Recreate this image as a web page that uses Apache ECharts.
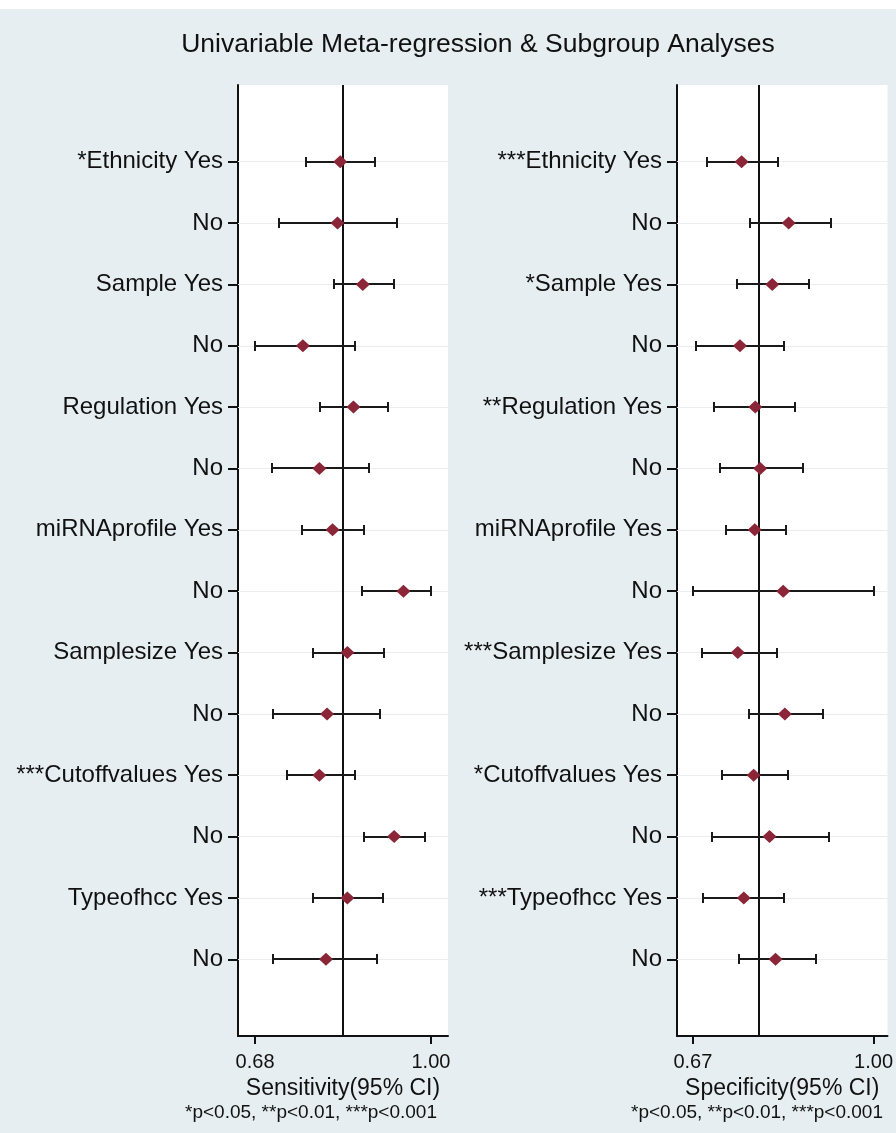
<!DOCTYPE html>
<html>
<head>
<meta charset="utf-8">
<script src="https://cdn.jsdelivr.net/npm/echarts@6/dist/echarts.min.js"></script>
<style>
  html, body { margin: 0; padding: 0; background: #e7eef2; }
  #chart { width: 896px; height: 1133px; }
</style>
</head>
<body>
<div id="chart"></div>
<script>
// Row labels (top to bottom)
const sensLabels = ['*Ethnicity Yes', 'No', 'Sample Yes', 'No', 'Regulation Yes', 'No',
  'miRNAprofile Yes', 'No', 'Samplesize Yes', 'No', '***Cutoffvalues Yes', 'No', 'Typeofhcc Yes', 'No'];
const specLabels = ['***Ethnicity Yes', 'No', '*Sample Yes', 'No', '**Regulation Yes', 'No',
  'miRNAprofile Yes', 'No', '***Samplesize Yes', 'No', '*Cutoffvalues Yes', 'No', '***Typeofhcc Yes', 'No'];

// Sensitivity estimates with 95% CI
const sensEst = [0.835, 0.830, 0.876, 0.767, 0.859, 0.797, 0.821, 0.950, 0.848, 0.811, 0.797, 0.933, 0.848, 0.809];
const sensLo  = [0.772, 0.724, 0.824, 0.680, 0.799, 0.710, 0.765, 0.875, 0.785, 0.713, 0.738, 0.878, 0.785, 0.713];
const sensHi  = [0.898, 0.939, 0.932, 0.861, 0.922, 0.888, 0.878, 1.000, 0.915, 0.908, 0.861, 0.990, 0.912, 0.901];
const sensPooled = 0.836;

// Specificity estimates with 95% CI
const specEst = [0.759, 0.845, 0.815, 0.756, 0.784, 0.793, 0.783, 0.835, 0.752, 0.838, 0.781, 0.810, 0.763, 0.821];
const specLo  = [0.696, 0.775, 0.751, 0.675, 0.709, 0.720, 0.730, 0.671, 0.686, 0.772, 0.723, 0.705, 0.689, 0.754];
const specHi  = [0.826, 0.922, 0.882, 0.837, 0.857, 0.871, 0.840, 1.000, 0.823, 0.908, 0.843, 0.919, 0.837, 0.894];
const specPooled = 0.789;

// Axis tick values
const sensTicks = [0.68, 1.00];
const specTicks = [0.67, 1.00];

const FONT = 'Liberation Sans, Arial, sans-serif';
const rows = sensLabels.map((_, i) => i + 1);

function xAxisFor(idx, ticks, min, max, name) {
  return {
    type: 'value', gridIndex: idx, min: min, max: max, position: 'bottom',
    name: name, nameLocation: 'middle', nameGap: 38,
    nameTextStyle: { fontFamily: FONT, fontSize: 23, color: '#111' },
    axisLine: { show: true, onZero: false, lineStyle: { color: '#111', width: 2 } },
    axisTick: { show: true, customValues: ticks, length: 8, lineStyle: { color: '#111', width: 2 } },
    axisLabel: { customValues: ticks, formatter: v => v.toFixed(2), margin: 16,
      fontFamily: FONT, fontSize: 20, color: '#111' },
    splitLine: { show: false }
  };
}

function yAxisFor(idx, labels) {
  return {
    type: 'value', gridIndex: idx, inverse: true, min: -0.25, max: 15.25,
    axisLine: { show: true, onZero: false, lineStyle: { color: '#111', width: 2 } },
    axisTick: { show: true, customValues: rows, length: 10, lineStyle: { color: '#111', width: 2 } },
    axisLabel: { customValues: rows, formatter: v => labels[Math.round(v) - 1] || '', margin: 15,
      fontFamily: FONT, fontSize: 24, color: '#111' },
    splitLine: { show: false }
  };
}

function panelSeries(idx, est, lo, hi, pooled) {
  const barData = lo.map((l, i) => [l, hi[i], i + 1]);
  const pointData = est.map((e, i) => [e, i + 1]);
  return [
    { // row guide lines
      type: 'line', xAxisIndex: idx, yAxisIndex: idx, data: [], z: 1, silent: true,
      markLine: { z: 1, silent: true, symbol: 'none', label: { show: false }, animation: false,
        lineStyle: { color: '#ececec', width: 1, type: 'solid', opacity: 1 },
        data: rows.map(r => ({ yAxis: r })) }
    },
    { // pooled estimate reference line
      type: 'line', xAxisIndex: idx, yAxisIndex: idx, data: [], z: 2, silent: true,
      markLine: { z: 2, silent: true, symbol: 'none', label: { show: false }, animation: false,
        lineStyle: { color: '#111', width: 2, type: 'solid', opacity: 1 },
        data: [{ xAxis: pooled }] }
    },
    { // confidence interval bars with end caps
      type: 'custom', xAxisIndex: idx, yAxisIndex: idx, z: 3, silent: true,
      data: barData,
      encode: { x: [0, 1], y: 2 },
      renderItem: function (params, api) {
        const a = api.coord([api.value(0), api.value(2)]);
        const b = api.coord([api.value(1), api.value(2)]);
        const y = Math.round(a[1]);
        const x1 = Math.round(a[0]);
        const x2 = Math.round(b[0]);
        const cap = 5;
        const fill = { fill: '#1a1a1a' };
        return {
          type: 'group',
          children: [
            { type: 'rect', shape: { x: x1, y: y - 1, width: x2 - x1, height: 2 }, style: fill },
            { type: 'rect', shape: { x: x1 - 1, y: y - cap, width: 2, height: cap * 2 }, style: fill },
            { type: 'rect', shape: { x: x2 - 1, y: y - cap, width: 2, height: cap * 2 }, style: fill }
          ]
        };
      }
    },
    { // point estimates
      type: 'scatter', xAxisIndex: idx, yAxisIndex: idx, z: 4, silent: true,
      symbol: 'diamond', symbolSize: [14, 13],
      itemStyle: { color: '#8a2637', opacity: 1 },
      data: pointData
    }
  ];
}

const chart = echarts.init(document.getElementById('chart'), null, { renderer: 'canvas' });
chart.setOption({
  animation: false,
  backgroundColor: '#e7eef2',
  title: {
    text: 'Univariable Meta-regression & Subgroup Analyses',
    left: 473, top: 26, textAlign: 'center',
    textStyle: { fontFamily: FONT, fontSize: 26.5, fontWeight: 'normal', color: '#111' }
  },
  graphic: [
    { type: 'rect', left: 0, top: 0, shape: { width: 896, height: 9 }, style: { fill: '#ffffff' }, silent: true },
    { type: 'text', x: 311, y: 1103, silent: true,
      style: { text: '*p<0.05, **p<0.01, ***p<0.001', textAlign: 'center', fontFamily: FONT, fontSize: 19, fill: '#111' } },
    { type: 'text', x: 757, y: 1103, silent: true,
      style: { text: '*p<0.05, **p<0.01, ***p<0.001', textAlign: 'center', fontFamily: FONT, fontSize: 19, fill: '#111' } }
  ],
  grid: [
    { left: 238, top: 85, width: 210, height: 951, show: true, backgroundColor: '#ffffff', borderWidth: 0 },
    { left: 677, top: 85, width: 211, height: 951, show: true, backgroundColor: '#ffffff', borderWidth: 0 }
  ],
  xAxis: [
    xAxisFor(0, sensTicks, 0.649, 1.031, 'Sensitivity(95% CI)'),
    xAxisFor(1, specTicks, 0.641, 1.0255, 'Specificity(95% CI)')
  ],
  yAxis: [
    yAxisFor(0, sensLabels),
    yAxisFor(1, specLabels)
  ],
  series: [].concat(
    panelSeries(0, sensEst, sensLo, sensHi, sensPooled),
    panelSeries(1, specEst, specLo, specHi, specPooled)
  )
});
</script>
</body>
</html>
